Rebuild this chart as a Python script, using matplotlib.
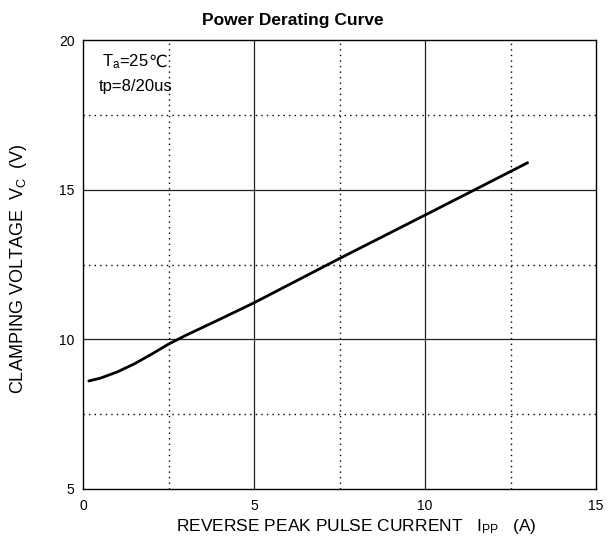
import matplotlib
matplotlib.use("Agg")
import matplotlib.pyplot as plt

plt.rcParams['font.family'] = ['Liberation Sans', 'DejaVu Sans']
plt.rcParams['mathtext.fontset'] = 'custom'
plt.rcParams['mathtext.rm'] = 'Liberation Sans'
plt.rcParams['mathtext.it'] = 'Liberation Sans'

current = [0.17, 0.5, 1.0, 1.5, 2.0, 2.5, 3.0, 4.0, 5.0, 7.5, 10.0, 11.46, 13.0]
voltage = [8.61, 8.70, 8.91, 9.18, 9.50, 9.84, 10.13, 10.67, 11.22, 12.70, 14.15, 15.0, 15.9]

x_ticks = [0, 5, 10, 15]
y_ticks = [5, 10, 15, 20]

fig = plt.figure(figsize=(6.09, 5.44), dpi=100)
ax = fig.add_axes([83/609, 55/544, 513/609, 449/544])

ax.set_xlim(0, 15)
ax.set_ylim(5, 20)
ax.set_xticks(x_ticks)
ax.set_yticks(y_ticks)
ax.tick_params(which='both', length=0, labelsize=10)
ax.tick_params(axis='x', pad=7)
ax.tick_params(axis='y', pad=6)

for v in [5, 10]:
    ax.axvline(v, color='#222222', lw=0.9, zorder=1)
for v in [10, 15]:
    ax.axhline(v, color='#222222', lw=0.9, zorder=1)
for v in [2.5, 7.5, 12.5]:
    ax.axvline(v, color='black', lw=1.0, ls=(0, (1, 3)), zorder=1)
for v in [7.5, 12.5, 17.5]:
    ax.axhline(v, color='black', lw=1.0, ls=(0, (1, 3)), zorder=1)

ax.plot(current, voltage, color='black', lw=2.0, zorder=3, solid_capstyle='round')

for s in ax.spines.values():
    s.set_linewidth(1.0)

t1 = ax.text(0.55, 19.28, r'T$_\mathregular{a}$=25', fontsize=12, va='center', ha='left')
ax.annotate('℃', xy=(1.0, 0.5), xycoords=t1, va='center', ha='left', fontsize=12,
            family=['DejaVu Sans'])
ax.text(0.45, 18.45, 'tp=8/20us', fontsize=12, va='center', ha='left')

fig.text(293/609, 1 - 21/544, 'Power Derating Curve', fontsize=12.5, fontweight='bold', ha='center', va='center')
fig.text(356/609, 1 - 526/544, r'REVERSE PEAK PULSE CURRENT   I$_{\mathregular{PP}}$   (A)', fontsize=12.5, ha='center', va='center')
fig.text(19/609, 1 - 269/544, r'CLAMPING VOLTAGE  V$_{\mathregular{C}}$  (V)', fontsize=13, ha='center', va='center', rotation=90)

fig.savefig('out.png', dpi=100)
